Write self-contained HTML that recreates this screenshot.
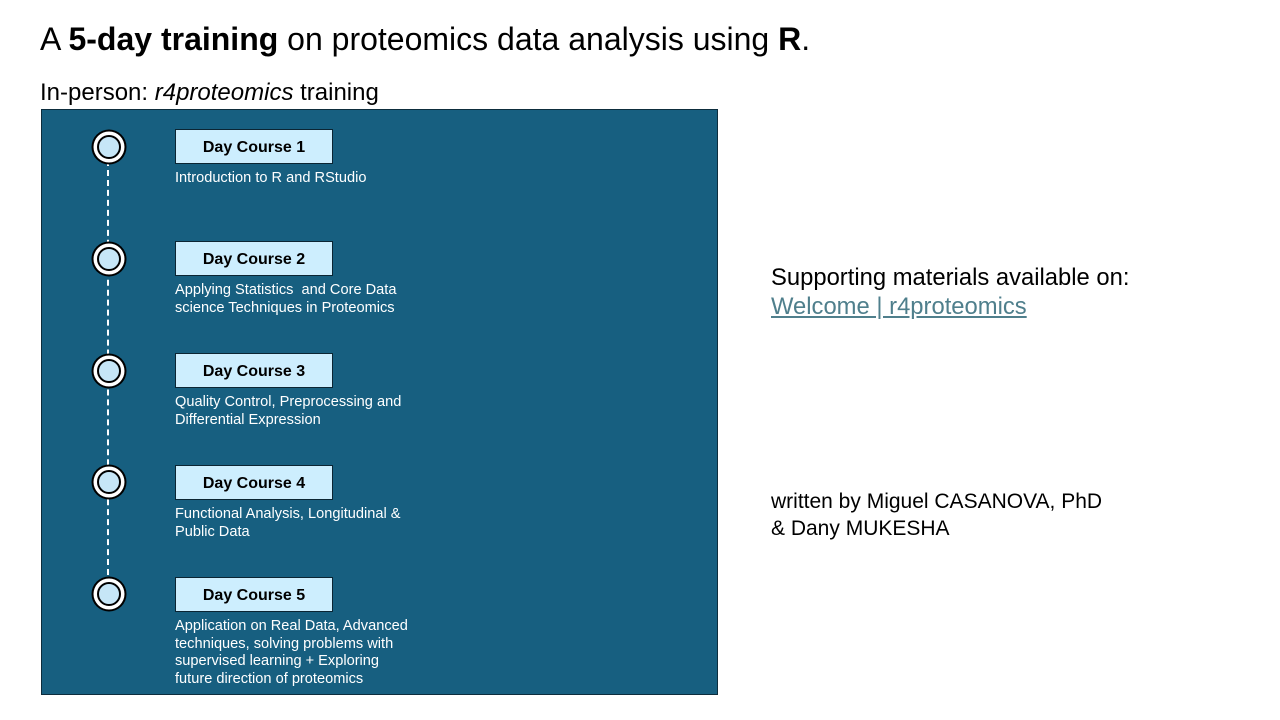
<!DOCTYPE html>
<html><head><meta charset="utf-8"><style>
body{margin:0;width:1280px;height:720px;background:#fff;font-family:"Liberation Sans",Arial,sans-serif;position:relative;overflow:hidden}
.abs{position:absolute}
.title{left:40px;top:21px;font-size:32px;color:#000;white-space:nowrap}
.sub{left:40px;top:79px;font-size:24px;white-space:nowrap}
.panel{left:41px;top:109px;width:675px;height:584px;background:#175f80;border:1.5px solid #0d2d3d}
.dash{left:107px;width:0;border-left:2px dashed #fff}
.dot{width:20px;height:20px;border-radius:50%;background:#c6e6f7;border:2px solid #000;box-shadow:0 0 0 3.5px #fff,0 0 0 5.5px #000}
.box{left:175px;width:156px;height:33px;background:#cdeefe;border:1.5px solid #0b2533;font-weight:bold;font-size:16px;line-height:35px;text-align:center;color:#000}
.desc{left:175px;font-size:14.6px;color:#fff;line-height:17.5px;white-space:nowrap}
.right{left:771px;font-size:23.8px;white-space:nowrap;line-height:29px}
a{color:#4f7f8c}
</style></head><body>
<div class="abs title">A <b>5-day training</b> on proteomics data analysis using <b>R</b>.</div>
<div class="abs sub">In-person: <i>r4proteomics</i> training</div>
<div class="abs panel"></div>
<div class="abs dash" style="top:160px;height:425px"></div>

<div class="abs dot" style="left:97px;top:135px"></div>
<div class="abs box" style="top:129px">Day Course 1</div>
<div class="abs desc" style="top:170px">Introduction to R and RStudio</div>

<div class="abs dot" style="left:97px;top:247px"></div>
<div class="abs box" style="top:241px">Day Course 2</div>
<div class="abs desc" style="top:282px">Applying Statistics&nbsp; and Core Data<br>science Techniques in Proteomics</div>

<div class="abs dot" style="left:97px;top:359px"></div>
<div class="abs box" style="top:353px">Day Course 3</div>
<div class="abs desc" style="top:394px">Quality Control, Preprocessing and<br>Differential Expression</div>

<div class="abs dot" style="left:97px;top:470px"></div>
<div class="abs box" style="top:465px">Day Course 4</div>
<div class="abs desc" style="top:506px">Functional Analysis, Longitudinal &amp;<br>Public Data</div>

<div class="abs dot" style="left:97px;top:582px"></div>
<div class="abs box" style="top:577px">Day Course 5</div>
<div class="abs desc" style="top:618px">Application on Real Data, Advanced<br>techniques, solving problems with<br>supervised learning + Exploring<br>future direction of proteomics</div>

<div class="abs right" style="top:263px">Supporting materials available on:<br><a href="#">Welcome | r4proteomics</a></div>
<div class="abs right" style="top:488px;font-size:21px;line-height:27px">written by Miguel CASANOVA, PhD<br>&amp; Dany MUKESHA</div>
</body></html>
